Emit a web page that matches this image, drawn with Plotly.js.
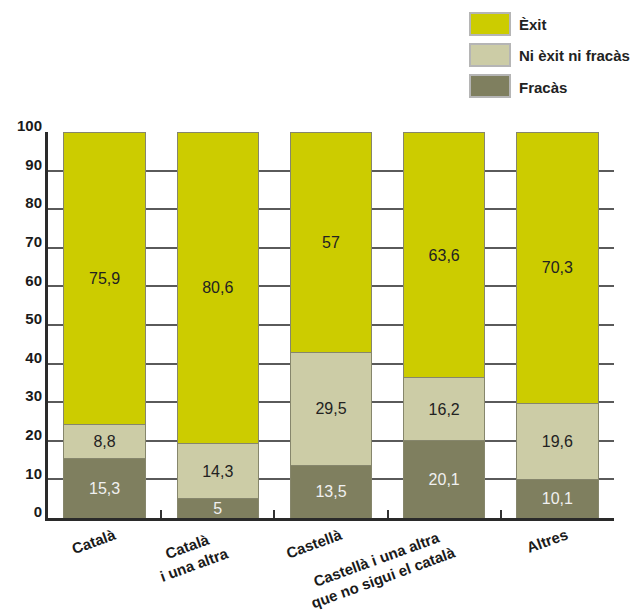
<!DOCTYPE html>
<html>
<head>
<meta charset="utf-8">
<script src="https://cdn.plot.ly/plotly-3.0.1.min.js"></script>
<style>html,body{margin:0;padding:0;background:#fff;}#chart{width:632px;height:614px;}</style>
</head>
<body>
<div id="chart"></div>
<script>
// ---- data ----
const categories = ["Català", "Català<br>i una altra", "Castellà", "Castellà i una altra<br>que no sigui el català", "Altres"];
const seriesNames = ["Fracàs", "Ni èxit ni fracàs", "Èxit"];
const fracas = [15.3, 5, 13.5, 20.1, 10.1];
const niExitNiFracas = [8.8, 14.3, 29.5, 16.2, 19.6];
const exit = [75.9, 80.6, 57, 63.6, 70.3];
const yTicks = [0, 10, 20, 30, 40, 50, 60, 70, 80, 90, 100];

// ---- styling ----
const W = 632, H = 614;
const M = {l: 48, r: 18, t: 132, b: 96};
const colors = {"Fracàs": "#7f7f5f", "Ni èxit ni fracàs": "#cccca6", "Èxit": "#cccc00"};
const textColors = {"Fracàs": "#f0f0f0", "Ni èxit ni fracàs": "#222", "Èxit": "#222"};
const font = "Liberation Sans, Arial, sans-serif";
const fmt = v => String(v).replace('.', ',');

const seriesValues = [fracas, niExitNiFracas, exit];
const traces = seriesNames.map((name, i) => ({
  type: 'bar',
  name: name,
  x: categories,
  y: seriesValues[i],
  text: seriesValues[i].map(fmt),
  textposition: 'inside',
  insidetextanchor: 'middle',
  constraintext: 'none',
  textangle: 0,
  textfont: {family: font, size: 16, color: textColors[name]},
  marker: {color: colors[name], line: {color: '#86866c', width: 1}},
  hoverinfo: 'x+y+name'
}));

// pixel -> paper helpers for the custom legend
const pw = W - M.l - M.r, ph = H - M.t - M.b;
const px = X => (X - M.l) / pw;
const py = Y => (H - M.b - Y) / ph;

const shapes = [];
const annotations = [];
const legendOrder = ["Èxit", "Ni èxit ni fracàs", "Fracàs"];
legendOrder.forEach((name, i) => {
  const top = 13 + i * 31;
  shapes.push({type: 'rect', xref: 'paper', yref: 'paper',
    x0: px(470), x1: px(510), y0: py(top), y1: py(top + 22),
    fillcolor: colors[name], line: {color: '#b5b5b5', width: 2}});
  annotations.push({xref: 'paper', yref: 'paper', x: px(517), y: py(top + 12),
    xanchor: 'left', yanchor: 'middle', showarrow: false, text: name,
    font: {family: font, size: 15, color: '#222', weight: 'bold'}});
});

categories.forEach(c => {
  annotations.push({x: c, xref: 'x', yref: 'paper', y: 0, xanchor: 'right', yanchor: 'top',
    xshift: 16, yshift: -5, textangle: -20, align: 'center', showarrow: false, text: c,
    font: {family: font, size: 15, color: '#1a1a1a', weight: 'bold'}});
});

const layout = {
  width: W, height: H,
  margin: M,
  paper_bgcolor: '#fff', plot_bgcolor: '#fff',
  barmode: 'stack',
  bargap: 0.28,
  showlegend: false,
  font: {family: font, size: 12, color: '#222'},
  xaxis: {
    type: 'category',
    showticklabels: false,
    showgrid: false,
    showline: true, linecolor: '#2a2a2a', linewidth: 3,
    ticks: 'inside', tickson: 'boundaries', ticklen: 8, tickwidth: 2, tickcolor: '#333',
    zeroline: false, fixedrange: true
  },
  yaxis: {
    range: [0, 100],
    tickvals: yTicks,
    ticktext: yTicks.map(String),
    showgrid: true, gridcolor: '#5a5a5a', gridwidth: 2,
    showline: true, linecolor: '#2a2a2a', linewidth: 3,
    zeroline: false,
    ticks: '',
    tickfont: {family: font, size: 15, color: '#1a1a1a', weight: 'bold'},
    ticklabelshift: -6,
    fixedrange: true
  },
  shapes: shapes,
  annotations: annotations
};

Plotly.newPlot('chart', traces, layout, {displayModeBar: false, staticPlot: true});
</script>
</body>
</html>
